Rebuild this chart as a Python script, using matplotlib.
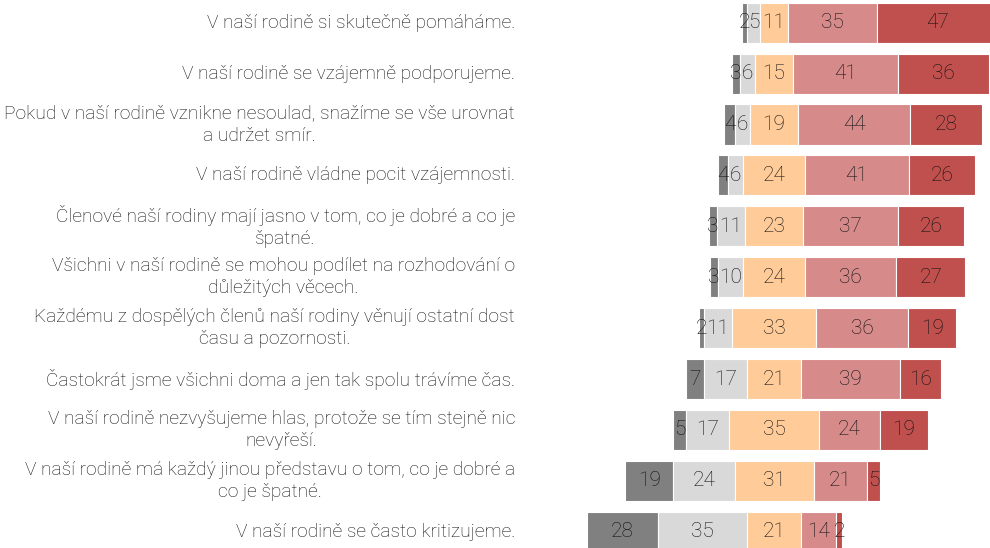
import numpy as np
import matplotlib.pyplot as plt

plt.rcParams['font.family'] = ['Roboto', 'DejaVu Sans']

# Výroky (shora dolů)
labels = [
    "V naší rodině si skutečně pomáháme.",
    "V naší rodině se vzájemně podporujeme.",
    "Pokud v naší rodině vznikne nesoulad, snažíme se vše urovnat\na udržet smír.",
    "V naší rodině vládne pocit vzájemnosti.",
    "Členové naší rodiny mají jasno v tom, co je dobré a co je\nšpatné.",
    "Všichni v naší rodině se mohou podílet na rozhodování o\ndůležitých věcech.",
    "Každému z dospělých členů naší rodiny věnují ostatní dost\nčasu a pozornosti.",
    "Častokrát jsme všichni doma a jen tak spolu trávíme čas.",
    "V naší rodině nezvyšujeme hlas, protože se tím stejně nic\nnevyřeší.",
    "V naší rodině má každý jinou představu o tom, co je dobré a\nco je špatné.",
    "V naší rodině se často kritizujeme.",
]

# Podíly odpovědí (%) od nejhorší po nejlepší
vals_1 = [2, 3, 4, 4, 3, 3, 2, 7, 5, 19, 28]
vals_2 = [5, 6, 6, 6, 11, 10, 11, 17, 17, 24, 35]
vals_3 = [11, 15, 19, 24, 23, 24, 33, 21, 35, 31, 21]
vals_4 = [35, 41, 44, 41, 37, 36, 36, 39, 24, 21, 14]
vals_5 = [47, 36, 28, 26, 26, 27, 19, 16, 19, 5, 2]

colors = ['#808080', '#d9d9d9', '#ffcc99', '#d68a8a', '#c0504d']

data = np.array([vals_1, vals_2, vals_3, vals_4, vals_5], dtype=float)
y = np.arange(len(labels))

# Střed prostřední kategorie na nule
left = -(data[0] + data[1] + data[2] / 2)

fig = plt.figure(figsize=(9.9, 5.48), dpi=100)
ax = fig.add_axes([530 / 990, 0, 460 / 990, 1])

for k in range(5):
    ax.barh(y, data[k], left=left, height=0.786, color=colors[k],
            edgecolor='white', linewidth=0.8)
    for i in range(len(y)):
        ax.text(left[i] + data[k, i] / 2, y[i], f"{int(data[k, i])}",
                ha='center', va='center', fontsize=15, fontweight='light',
                color='#111111')
    left = left + data[k]

for i, lab in enumerate(labels):
    ax.text(-95.7 - 15 / 2.55, y[i], lab, ha='right', va='center',
            multialignment='center', fontsize=13.8, fontweight='light',
            color='#111111', linespacing=1.3, clip_on=False)

ax.set_xlim(-95.7, 84.7)
ax.set_ylim(10.32, -0.446)
ax.axis('off')

plt.savefig('out.png', dpi=100)
